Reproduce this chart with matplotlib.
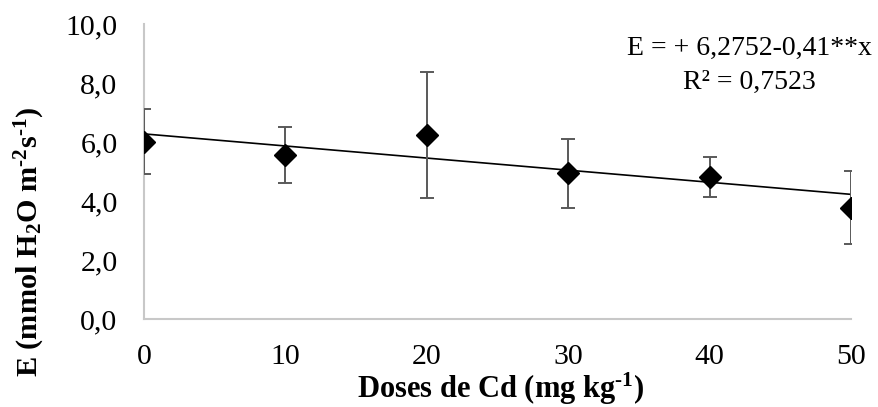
import matplotlib
matplotlib.use("Agg")
import matplotlib.pyplot as plt
from matplotlib.ticker import FuncFormatter, FixedLocator

plt.rcParams['font.family'] = ['Liberation Serif', 'DejaVu Serif']
plt.rcParams['mathtext.fontset'] = 'custom'
plt.rcParams['mathtext.rm'] = 'Liberation Serif:bold'
plt.rcParams['mathtext.it'] = 'Liberation Serif:bold'
plt.rcParams['mathtext.bf'] = 'Liberation Serif:bold'

# Cd doses and mean transpiration with standard deviation
doses = [0, 10, 20, 30, 40, 50]
transpiration = [6.00, 5.56, 6.24, 4.95, 4.81, 3.76]
err_upper = [7.12, 6.51, 8.37, 6.10, 5.49, 5.02]
err_lower = [4.92, 4.60, 4.10, 3.76, 4.14, 2.54]

# Linear regression fit
intercept = 6.2752
slope = -0.041
equation_text = "E = + 6,2752-0,41**x"
r2_text = "R² = 0,7523"

y_ticks = [0, 2, 4, 6, 8, 10]
x_ticks = [0, 10, 20, 30, 40, 50]

fig = plt.figure(figsize=(8.79, 4.07), dpi=100)
ax = fig.add_axes([144 / 879, 1 - 319 / 407, (851 - 144) / 879, (319 - 24) / 407])

yerr = [[m - lo for m, lo in zip(transpiration, err_lower)],
        [hi - m for m, hi in zip(transpiration, err_upper)]]

fit_x = [doses[0], doses[-1]]
fit_y = [intercept + slope * x for x in fit_x]
ax.plot(fit_x, fit_y, color='black', lw=1.2, zorder=2)

ax.errorbar(doses, transpiration, yerr=yerr, fmt='none', ecolor='#595959',
            elinewidth=1.4, capsize=5, capthick=1.4, zorder=3)
ax.plot(doses, transpiration, linestyle='none', marker='D', markersize=11.5,
        markeredgewidth=1, color='black', zorder=4)

ax.set_xlim(0, 50)
ax.set_ylim(0, 10)
ax.xaxis.set_major_locator(FixedLocator(x_ticks))
ax.yaxis.set_major_locator(FixedLocator(y_ticks))
ax.yaxis.set_major_formatter(FuncFormatter(lambda v, p: f"{v:.1f}".replace('.', ',')))
ax.xaxis.set_major_formatter(FuncFormatter(lambda v, p: f"{v:.0f}"))
ax.tick_params(axis='both', length=0, labelsize=21.5, colors='black')
ax.tick_params(axis='y', pad=19)
ax.tick_params(axis='x', pad=18)

for side in ['top', 'right']:
    ax.spines[side].set_visible(False)
for side in ['left', 'bottom']:
    ax.spines[side].set_color('#c8c8c8')
    ax.spines[side].set_linewidth(1.5)

fig.text(0.853, 0.882, equation_text, ha='center', va='center', fontsize=20)
fig.text(0.853, 0.797, r2_text, ha='center', va='center', fontsize=20)

fig.text(0.570, 0.044, r"Doses de Cd (mg kg$^{\text{-}1}$)", ha='center', va='center',
         fontsize=22, fontweight='bold')
fig.text(0.034, 0.405, r"E (mmol H$_{2}$O m$^{\text{-}2}$s$^{\text{-}1}$)", ha='center',
         va='center', fontsize=21.8, fontweight='bold', rotation=90)

fig.savefig("out.png", dpi=100)
